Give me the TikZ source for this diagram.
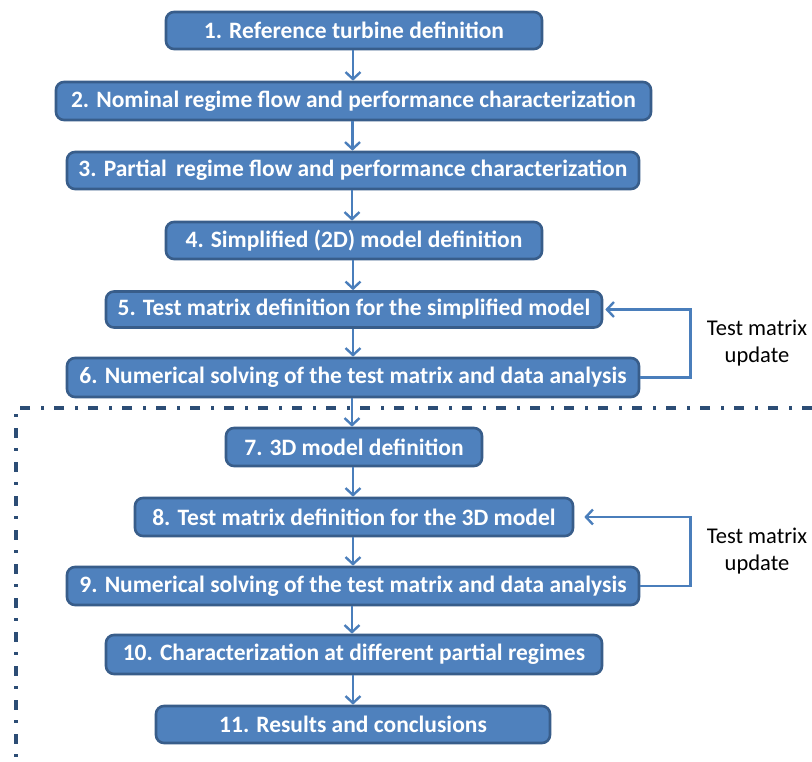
\documentclass[tikz,border=0pt]{standalone}
\usepackage{fontspec}
\setmainfont{Carlito}
\usetikzlibrary{arrows.meta,calc}
\definecolor{boxfill}{HTML}{4F81BD}
\definecolor{boxline}{HTML}{385D8A}
\definecolor{arrcol}{HTML}{4A7EBB}
\definecolor{ddcol}{HTML}{2C4D75}
\begin{document}
\begin{tikzpicture}[x=1pt,y=-1pt,
  stepbox/.style={draw=boxline, line width=2.6pt, fill=boxfill, rounded corners=8pt,
    text=white, font=\fontsize{23.5}{26}\selectfont\bfseries, inner sep=0pt, anchor=center},
  arr/.style={draw=arrcol, line width=2.4pt, -{Straight Barb[length=7pt,width=15pt,line width=2.4pt]}},
  ddline/.style={draw=ddcol, line width=3.2pt, dash pattern=on 10pt off 10pt on 3pt off 11pt},
  note/.style={font=\fontsize{22.5}{27}\selectfont, align=center, text=black}]
\useasboundingbox (0,0) rectangle (812,762);
\fill[white] (0,0) rectangle (812,762);
\node[stepbox, minimum width=376pt, minimum height=37pt] (b1) at (354,30.5) {1. Reference turbine definition};
\node[stepbox, minimum width=595pt, minimum height=38pt] (b2) at (353.5,101) {2. Nominal regime flow and performance characterization};
\node[stepbox, minimum width=572pt, minimum height=37pt] (b3) at (353,170.5) {3. Partial\, regime flow and performance characterization};
\node[stepbox, minimum width=376pt, minimum height=37pt] (b4) at (354,240.5) {4. Simplified (2D) model definition};
\node[stepbox, minimum width=496pt, minimum height=36pt] (b5) at (354,309.5) {5. Test matrix definition for the simplified model};
\node[stepbox, minimum width=572pt, minimum height=39pt] (b6) at (353,377.5) {6. Numerical solving of the test matrix and data analysis};
\node[stepbox, minimum width=256pt, minimum height=38pt] (b7) at (354,447) {7. 3D model definition};
\node[stepbox, minimum width=438pt, minimum height=38pt] (b8) at (354,517) {8. Test matrix definition for the 3D model};
\node[stepbox, minimum width=572pt, minimum height=38pt] (b9) at (353,586) {9. Numerical solving of the test matrix and data analysis};
\node[stepbox, minimum width=496pt, minimum height=39pt] (b10) at (354,654.5) {10. Characterization at different partial regimes};
\node[stepbox, minimum width=394pt, minimum height=37pt] (b11) at (353,724.5) {11. Results and conclusions};

\coordinate (ddr) at (812,408);
\coordinate (ddc) at (16,408);
\coordinate (ddb) at (16,764);
\draw[ddline] (ddr) -- (ddc) -- (ddb);

\foreach \a/\b in {b1/b2,b2/b3,b3/b4,b4/b5,b5/b6,b7/b8,b8/b9,b9/b10,b10/b11}{
  \draw[arr] ([xshift=-1pt]\a.south) -- ([xshift=-1pt]\a.south |- \b.north);
}
\draw[arr] ([xshift=-1pt]b6.south) -- ([xshift=-1pt]b6.south |- b7.north);

\draw[arr] (b6.east) -- ++(50,0) |- ([xshift=2pt]b5.east);
\draw[arr] (b9.east) -- ++(50,0) |- ([xshift=10pt]b8.east);

\node[note] (n1) at (757,343) {Test matrix\\update};
\node[note] (n2) at (757,551) {Test matrix\\update};
\end{tikzpicture}
\end{document}
